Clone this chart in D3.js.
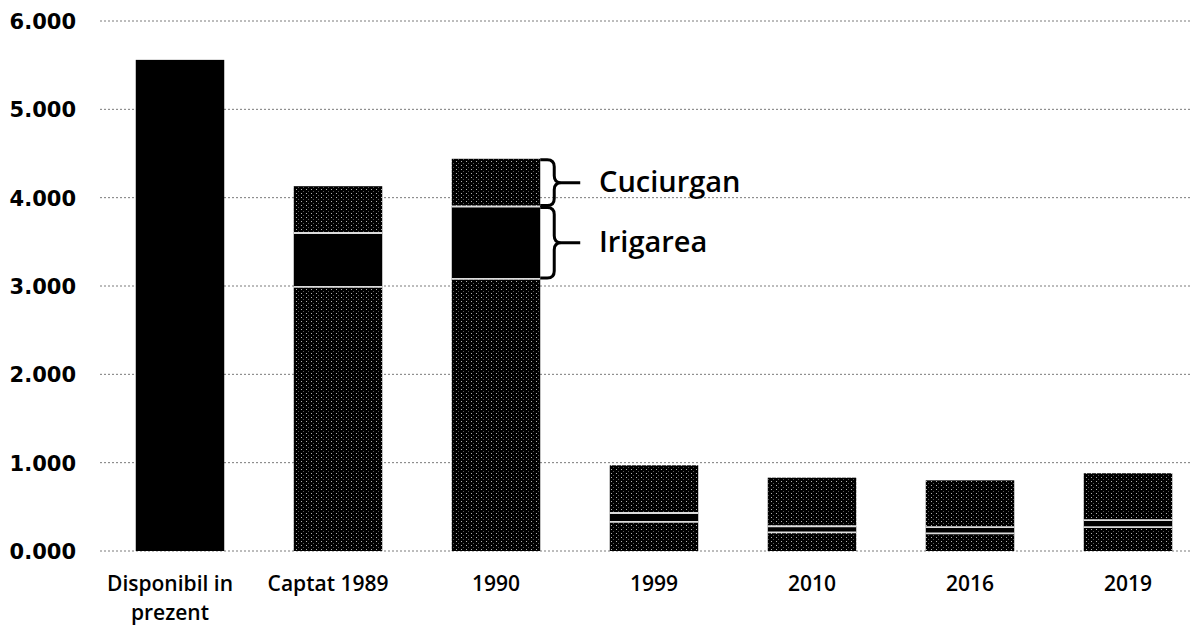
<!DOCTYPE html>
<html>
<head>
<meta charset="utf-8">
<script src="https://cdn.jsdelivr.net/npm/d3@7"></script>
<style>
  body { margin: 0; background: #fff; }
  svg { display: block; }
</style>
</head>
<body>
<div id="chart"></div>
<script>
// date (mil. m3)
const categories = ['Disponibil in prezent', 'Captat 1989', '1990', '1999', '2010', '2016', '2019'];
const disponibil = [5.56, 0, 0, 0, 0, 0, 0];
const altele = [0, 2.99, 3.08, 0.33, 0.21, 0.20, 0.27];
const irigarea = [0, 0.61, 0.82, 0.10, 0.07, 0.07, 0.08];
const cuciurgan = [0, 0.53, 0.54, 0.54, 0.55, 0.53, 0.53];
const yTicks = [0, 1, 2, 3, 4, 5, 6];
const yTickLabels = ['0.000', '1.000', '2.000', '3.000', '4.000', '5.000', '6.000'];
const xLabelLines = [['Disponibil in', 'prezent'], ['Captat 1989'], ['1990'], ['1999'], ['2010'], ['2016'], ['2019']];
const annotations = [
    { text: 'Cuciurgan', series: 'cuciurgan', category: '1990' },
    { text: 'Irigarea', series: 'irigarea', category: '1990' }
];

const width = 1195, height = 630;
const svg = d3.select('#chart').append('svg')
    .attr('width', width)
    .attr('height', height);

// model de puncte (imita rasterul din original)
const defs = svg.append('defs');
const pat = defs.append('pattern')
    .attr('id', 'dither')
    .attr('width', 5).attr('height', 4)
    .attr('patternUnits', 'userSpaceOnUse');
pat.append('rect').attr('width', 5).attr('height', 4).attr('fill', '#000');
pat.append('rect').attr('x', 1).attr('y', 1).attr('width', 1).attr('height', 1).attr('fill', '#b0b0b0');
pat.append('rect').attr('x', 3).attr('y', 3).attr('width', 1).attr('height', 1).attr('fill', '#555');

const x = d3.scaleBand()
    .domain(categories)
    .range([101, 1207])
    .paddingInner(0.44)
    .paddingOuter(0.22);

const y = d3.scaleLinear()
    .domain([0, 6])
    .range([551, 21]);

// linii de grila
svg.append('g')
    .selectAll('line')
    .data(yTicks)
    .enter()
    .append('line')
    .attr('x1', 100)
    .attr('x2', 1190)
    .attr('y1', d => y(d))
    .attr('y2', d => y(d))
    .attr('stroke', '#7a7a7a')
    .attr('stroke-width', 1)
    .attr('stroke-dasharray', '2,2');

// axa Y
const yAxis = d3.axisLeft(y)
    .tickValues(yTicks)
    .tickFormat((d, i) => yTickLabels[i])
    .tickSize(0)
    .tickPadding(0);
const gy = svg.append('g')
    .attr('transform', 'translate(76,0)')
    .call(yAxis);
gy.select('.domain').remove();
gy.selectAll('text')
    .attr('font-family', '"DejaVu Sans", sans-serif')
    .attr('font-weight', 'bold')
    .attr('font-size', 21)
    .attr('fill', '#000')
    .attr('dy', '0.36em');

// seriile stivuite
const rows = categories.map((c, i) => ({
    category: c,
    disponibil: disponibil[i],
    altele: altele[i],
    irigarea: irigarea[i],
    cuciurgan: cuciurgan[i]
}));
const keys = ['disponibil', 'altele', 'irigarea', 'cuciurgan'];
const fills = { disponibil: '#000', altele: 'url(#dither)', irigarea: '#000', cuciurgan: 'url(#dither)' };
const stacked = d3.stack().keys(keys)(rows);

svg.append('g')
    .selectAll('g')
    .data(stacked)
    .enter()
    .append('g')
    .attr('fill', d => fills[d.key])
    .selectAll('rect')
    .data(d => d.filter(s => s[1] - s[0] > 0))
    .enter()
    .append('rect')
    .attr('x', d => x(d.data.category))
    .attr('width', x.bandwidth())
    .attr('y', d => y(d[1]))
    .attr('height', d => y(d[0]) - y(d[1]));

// linii albe intre segmente
const seps = [];
stacked.forEach((s, si) => {
    if (si < 2) return;
    s.forEach(d => {
        if (d[1] - d[0] > 0 && d[0] > 0) seps.push({ category: d.data.category, v: d[0] });
    });
});
svg.append('g')
    .selectAll('line')
    .data(seps)
    .enter()
    .append('line')
    .attr('x1', d => x(d.category))
    .attr('x2', d => x(d.category) + x.bandwidth())
    .attr('y1', d => y(d.v))
    .attr('y2', d => y(d.v))
    .attr('stroke', '#dcdcdc')
    .attr('stroke-width', 1.8);

// axa X (etichete)
const gx = svg.append('g');
gx.selectAll('text')
    .data(categories)
    .enter()
    .append('text')
    .attr('x', d => x(d) + x.bandwidth() / 2)
    .attr('y', 591)
    .attr('text-anchor', 'middle')
    .attr('font-family', '"Open Sans", sans-serif')
    .attr('font-weight', 600)
    .attr('font-size', 21)
    .attr('fill', '#000')
    .each(function(d, i) {
        const lines = xLabelLines[i];
        const cx = x(d) + x.bandwidth() / 2 - (lines.length > 1 || lines[0].includes(' ') ? 10 : 0);
        d3.select(this).selectAll('tspan')
            .data(lines)
            .enter()
            .append('tspan')
            .attr('x', cx)
            .attr('dy', (l, j) => j === 0 ? 0 : 29)
            .text(l => l);
    });

// acolade si etichete
const seriesByKey = {};
stacked.forEach(s => { seriesByKey[s.key] = s; });
const brace = (x0, y0, y1, w) => {
    const ym = (y0 + y1) / 2;
    const r = Math.min(7, (y1 - y0) / 4);
    return `M${x0},${y0 + 1} L${x0 + w - r},${y0 + 1} Q${x0 + w},${y0 + 1} ${x0 + w},${y0 + 1 + r}`
        + ` L${x0 + w},${ym - r} Q${x0 + w},${ym} ${x0 + w + r},${ym} L${x0 + w + 26},${ym}`
        + ` M${x0 + w + r},${ym} Q${x0 + w},${ym} ${x0 + w},${ym + r}`
        + ` L${x0 + w},${y1 - 1 - r} Q${x0 + w},${y1 - 1} ${x0 + w - r},${y1 - 1} L${x0},${y1 - 1}`;
};
const ga = svg.append('g');
annotations.forEach(a => {
    const idx = categories.indexOf(a.category);
    const seg = seriesByKey[a.series][idx];
    const x0 = x(a.category) + x.bandwidth();
    const yTop = y(seg[1]);
    const yBot = y(seg[0]);
    ga.append('path')
        .attr('d', brace(x0, yTop, yBot, 14))
        .attr('fill', 'none')
        .attr('stroke', '#000')
        .attr('stroke-width', 3);
    ga.append('text')
        .attr('x', 599)
        .attr('y', (yTop + yBot) / 2)
        .attr('dy', '0.33em')
        .attr('font-family', '"Open Sans", sans-serif')
        .attr('font-weight', 600)
        .attr('font-size', 29)
        .attr('fill', '#000')
        .text(a.text);
});
</script>
</body>
</html>
